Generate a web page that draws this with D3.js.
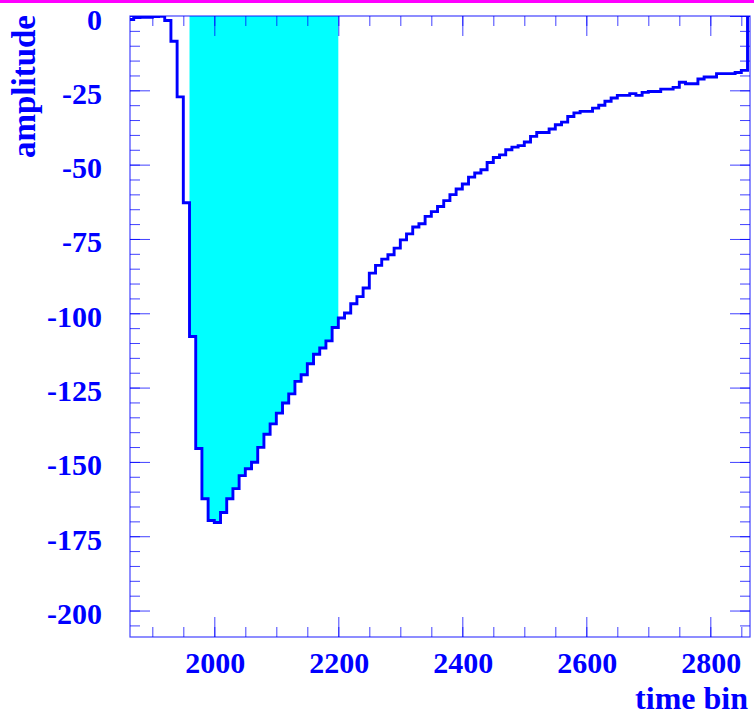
<!DOCTYPE html>
<html>
<head>
<meta charset="utf-8">
<script src="https://cdn.jsdelivr.net/npm/d3@7"></script>
<style>
  body { margin: 0; background: #fff; }
  text { font-family: "Liberation Serif", "DejaVu Serif", serif; font-weight: bold; fill: #0000ff; }
</style>
</head>
<body>
<div id="chart"></div>
<script>
var width = 754;
var height = 715;

// plot frame edges in pixels
var frameL = 130, frameR = 750, frameT = 16, frameB = 637;

// histogram: bins of 10 time bins starting at 1860
var binStart = 1860;
var binWidth = 10;
var amplitude = [
  -1.2, -0.5, -0.4, -0.4, -0.2, -0.1, -1.5, -8.5, -27.2, -62.8,
  -107.8, -145.5, -162.4, -169.7, -170.4, -167.0, -162.4, -159.0, -154.6, -152.3,
  -150.1, -145.1, -140.7, -137.2, -133.6, -130.2, -127.1, -122.9, -120.7, -117.0,
  -113.8, -111.7, -109.3, -104.8, -101.6, -99.9, -96.8, -94.4, -91.5, -86.5,
  -83.9, -81.8, -80.3, -78.1, -75.3, -73.3, -71.0, -69.9, -67.4, -65.8,
  -64.1, -62.1, -60.1, -58.2, -56.5, -54.2, -52.8, -51.7, -49.3, -47.6,
  -46.7, -45.0, -44.1, -43.6, -42.4, -40.5, -39.2, -39.2, -38.0, -36.6,
  -35.7, -33.8, -32.6, -32.1, -32.1, -31.0, -30.0, -28.7, -27.6, -26.7,
  -26.7, -26.1, -26.7, -25.7, -25.4, -25.4, -24.6, -24.6, -24.0, -22.3,
  -22.8, -22.8, -21.2, -20.5, -20.5, -19.4, -19.4, -19.4, -19.0, -18.3
];

// shaded integration window
var windowRange = [1960, 2200];

var xDomain = [1864, 2864];
var yDomain = [-208.9, 0];
var xMajorTicks = [2000, 2200, 2400, 2600, 2800];
var yMajorTicks = [0, -25, -50, -75, -100, -125, -150, -175, -200];
var xTitle = "time bin";
var yTitle = "amplitude";

const x = d3.scaleLinear().domain(xDomain).range([frameL, frameR]);
const y = d3.scaleLinear().domain(yDomain).range([frameB, frameT]);

var xMinorTicks = d3.range(1900, 2864, 50);
var yMinorTicks = d3.range(0, -209, -5);

const svg = d3.select("#chart")
    .append("svg")
    .attr("width", width)
    .attr("height", height);

// magenta strip at the very top
svg.append("rect")
    .attr("x", 0).attr("y", 0)
    .attr("width", width).attr("height", 3)
    .attr("fill", "#ff00ff");

svg.append("clipPath").attr("id", "frame")
    .append("rect")
    .attr("x", frameL).attr("y", frameT)
    .attr("width", frameR - frameL).attr("height", frameB - frameT);

var bins = amplitude.map(function(v, i) {
    return { x0: binStart + i * binWidth, x1: binStart + (i + 1) * binWidth, v: v };
});

// filled window
var winBins = bins.filter(function(d) { return d.x0 >= windowRange[0] && d.x1 <= windowRange[1]; });
var winPts = [];
winBins.forEach(function(d) { winPts.push([d.x0, d.v]); winPts.push([d.x1, d.v]); });

svg.append("path")
    .datum(winPts)
    .attr("clip-path", "url(#frame)")
    .attr("fill", "#00ffff")
    .attr("d", d3.area()
        .x(function(d) { return x(d[0]); })
        .y0(y(0))
        .y1(function(d) { return y(d[1]); }));

// histogram outline
var pts = [[bins[0].x0, 0]];
bins.forEach(function(d) { pts.push([d.x0, d.v]); pts.push([d.x1, d.v]); });
pts.push([bins[bins.length - 1].x1, 0]);

svg.append("path")
    .datum(pts)
    .attr("clip-path", "url(#frame)")
    .attr("fill", "none")
    .attr("stroke", "#0000ff")
    .attr("stroke-width", 2.9)
    .attr("stroke-linejoin", "miter")
    .attr("d", d3.line()
        .x(function(d) { return x(d[0]); })
        .y(function(d) { return y(d[1]); }));

// ticks on all four sides, pointing inward
function ticks(axis, pos, vals, size) {
    var g = svg.append("g")
        .attr("transform", pos)
        .call(axis.tickValues(vals).tickSize(size).tickFormat(""));
    g.select(".domain").remove();
    g.selectAll("line").attr("stroke", "#0000ff").attr("stroke-opacity", 0.75);
}
ticks(d3.axisLeft(y), "translate(" + frameL + ",0)", yMinorTicks, -10);
ticks(d3.axisLeft(y), "translate(" + frameL + ",0)", yMajorTicks, -20);
ticks(d3.axisRight(y), "translate(" + frameR + ",0)", yMinorTicks, -10);
ticks(d3.axisRight(y), "translate(" + frameR + ",0)", yMajorTicks, -20);
ticks(d3.axisBottom(x), "translate(0," + frameB + ")", xMinorTicks, -10);
ticks(d3.axisBottom(x), "translate(0," + frameB + ")", xMajorTicks, -20);
ticks(d3.axisTop(x), "translate(0," + frameT + ")", xMinorTicks, -10);
ticks(d3.axisTop(x), "translate(0," + frameT + ")", xMajorTicks, -20);

// frame
svg.append("rect")
    .attr("x", frameL).attr("y", frameT)
    .attr("width", frameR - frameL).attr("height", frameB - frameT)
    .attr("fill", "none")
    .attr("stroke", "#0000ff")
    .attr("stroke-opacity", 0.75)
    .attr("stroke-width", 1.2);

// tick labels
svg.append("g").selectAll("text")
    .data(yMajorTicks)
    .join("text")
    .attr("x", 102)
    .attr("y", function(d) { return y(d) + 13.5; })
    .attr("text-anchor", "end")
    .style("font-size", "30px")
    .text(function(d) { return d; });

svg.append("g").selectAll("text")
    .data(xMajorTicks)
    .join("text")
    .attr("x", function(d) { return x(d) + 1; })
    .attr("y", 673)
    .attr("text-anchor", "middle")
    .style("font-size", "30px")
    .text(function(d) { return d; });

// axis titles
svg.append("text")
    .attr("x", 748)
    .attr("y", 709)
    .attr("text-anchor", "end")
    .style("font-size", "32px")
    .text(xTitle);

svg.append("text")
    .attr("transform", "translate(35," + (frameT - 1) + ") rotate(-90)")
    .attr("text-anchor", "end")
    .style("font-size", "33px")
    .text(yTitle);
</script>
</body>
</html>
